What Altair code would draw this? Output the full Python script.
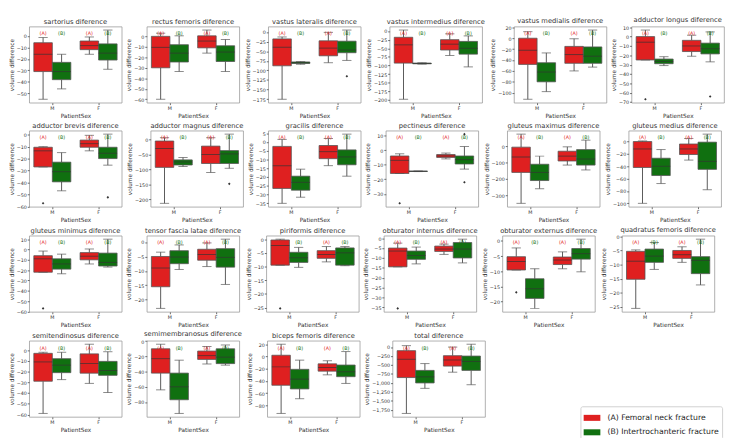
import altair as alt
import pandas as pd
import numpy as np

muscles = ["sartorius", "rectus femoris", "vastus lateralis", "vastus intermedius",
           "vastus medialis", "adductor longus", "adductor brevis", "adductor magnus",
           "gracilis", "pectineus", "gluteus maximus", "gluteus medius",
           "gluteus minimus", "tensor fascia latae", "piriformis", "obturator internus",
           "obturator externus", "quadratus femoris", "semitendinosus", "semimembranosus",
           "biceps femoris", "total"]

tick_step = [10, 10, 25, 25, 20, 10, 10, 50, 5, 10, 100, 20, 10, 5, 5, 5, 5, 5, 10, 20, 20, 250]

# (whisker low, q1, median, q3, whisker high)
M_A = [(-55, -31, -16, -6, -1.5), (-60, -30, -10.5, 0, 3), (-175, -88, -40, -18, -13),
       (-198, -93, -40, -18, 3), (-112, -48, -22, 0, 12), (-25, -25, -6, 0, 7),
       (-27, -27, -13.5, -10.5, -10), (-213, -93, -30, -5, 6), (-35, -26.5, -13.5, -2.5, 1.5),
       (-16, -16, -7, -4, -2.5), (-350, -160, -65, -5, 75), (-100, -42, -12, 0, 1),
       (-22, -22, -9, -6, -1.5), (-23, -15.5, -9, -5, -3.5), (-9.5, -9.5, -2.3, -0.3, 0),
       (-14.5, -14.5, -6.5, -5, -2.5), (-9.6, -9.6, -6.8, -5.2, -2.3), (-25.5, -15.2, -8.8, -5.3, -4.8),
       (-59, -29, -11, -3, -2), (-64, -42, -23, -10, -4), (-93, -47, -17, 2, 20),
       (-1850, -850, -340, -100, 40)]
M_B = [(-46, -38, -31, -23, -16), (-33.5, -24.5, -16, -8, 0.5), (-84, -82, -80, -78, -77),
       (-96, -95, -94, -93, -92), (-98, -80, -62, -45, -27), (-31, -29, -26.5, -24, -21.5),
       (-47, -39.5, -31, -23, -15), (-90, -85, -75, -68, -60), (-31.5, -27.5, -23, -19.5, -15.5),
       (-14.7, -14.6, -14.5, -14.4, -14.3), (-260, -210, -160, -110, -60), (-68, -55, -40, -27, -13),
       (-23.5, -19, -14, -9, -4.5), (-9.5, -7.5, -5.2, -3, -1), (-10.3, -8.5, -6.8, -4.8, -3),
       (-13, -10.7, -8.8, -6.5, -4.5), (-22.3, -19, -15.8, -12.5, -9.2), (-11.7, -9.2, -7, -4.5, -2.2),
       (-27.5, -21, -14, -8, -2), (-95, -77, -60, -42, -25), (-69, -53, -37, -21, -6),
       (-1150, -1000, -830, -650, -460)]
F_A = [(-16, -12, -8.5, -4.5, -1), (-16, -11, -4.5, 0.5, 6), (-80, -62, -42, -23, -1),
       (-71, -55, -38, -25, -8), (-60, -46, -30, -15, -1), (-21, -16, -10, -4, 1.5),
       (-13.5, -10.5, -7.5, -4.5, -0.5), (-110, -80, -50, -22, 6), (-13.5, -9.5, -5.5, -2, 2),
       (-6, -5, -4, -3, -2), (-115, -90, -60, -30, -3), (-30, -21, -12, -4, 5),
       (-14, -10, -6.5, -3, 0.5), (-8.5, -6.3, -4.3, -2.5, -0.3), (-8.3, -7, -5.6, -4.2, -2.7),
       (-8.2, -6.7, -5.5, -4, -3), (-9.2, -7.8, -6.3, -5.3, -3.6), (-9.2, -7.8, -6.5, -5, -3.7),
       (-31, -21.5, -12.5, -3.5, 5.5), (-30, -24, -19, -13, -7), (-30, -24, -18, -12, -7),
       (-700, -530, -360, -240, 0)]
F_B = [(-29, -21, -15, -7, 5), (-33.5, -24, -15, -9, -3), (-74, -54, -47, -24, 5),
       (-104, -67, -50, -30, -14), (-53, -46, -33, -16, 15), (-27, -18.5, -13, -7, 5),
       (-25.5, -20, -15.5, -10.5, 0.5), (-96, -80, -48, -37, 18), (-19.5, -13, -8.5, -4.5, 4.5),
       (-13, -9.5, -6.5, -4, 2.5), (-145, -115, -78, -20, 38), (-78, -45, -32, -1, 12),
       (-17, -16, -12.5, -3.5, 10), (-14.7, -8.7, -5.3, -2.3, 1), (-9.7, -9.5, -5, -3.2, -2.7),
       (-12.5, -10, -5.5, -2.2, -0.5), (-10.2, -6, -4.2, -2.5, 0.6), (-17.2, -13.2, -8.5, -7.2, -1),
       (-39.5, -23.5, -19, -10.5, -1.5), (-31.5, -29.5, -21, -10, -5), (-44, -33, -25, -14, 8),
       (-1050, -650, -400, -250, 80)]

out_muscle = ["vastus lateralis", "adductor longus", "adductor longus", "adductor brevis",
              "adductor brevis", "adductor magnus", "pectineus", "pectineus", "pectineus",
              "gluteus minimus", "piriformis", "obturator internus", "obturator externus"]
out_sex = ["F", "M", "F", "M", "F", "F", "M", "F", "F", "M", "M", "M", "M"]
out_frac = ["B", "A", "B", "A", "B", "B", "A", "B", "B", "A", "A", "A", "A"]
out_value = [-115, -67, -64, -57.5, -52.5, -148, -36.5, 11, -22, -57, -25.3, -35.5, -17]

sexes = ["M", "F"]
fracs = ["A", "B"]
frac_labels = ["(A) Femoral neck fracture", "(B) Intertrochanteric fracture"]
frac_short = ["(A)", "(B)"]
colors = ["#df2020", "#107010"]

rows = []
for groups, sex, frac in [(M_A, "M", "A"), (M_B, "M", "B"), (F_A, "F", "A"), (F_B, "F", "B")]:
    for m, st in zip(muscles, groups):
        fi = fracs.index(frac)
        rows.append(dict(muscle=m, sex=sex, frac=frac, flabel=frac_labels[fi], short=frac_short[fi],
                         lo=st[0], q1=st[1], med=st[2], q3=st[3], hi=st[4]))
box_df = pd.DataFrame(rows)
out_df = pd.DataFrame(dict(muscle=out_muscle, sex=out_sex, frac=out_frac, value=out_value))

W, H = 96, 79
FONT = "DejaVu Sans"
BOXW = 0.2 * W
GRAY = "#555555"

panels = []
for i, m in enumerate(muscles):
    bd = box_df[box_df.muscle == m]
    od = out_df[out_df.muscle == m]
    lo = min(bd.lo.min(), od.value.min() if len(od) else np.inf)
    hi = max(bd.hi.max(), od.value.max() if len(od) else -np.inf)
    pad = 0.05 * (hi - lo)
    dlo, dhi = lo - pad, hi + pad
    step = tick_step[i]
    ticks = [float(v) for v in np.arange(np.ceil(dlo / step) * step, dhi + 1e-9, step)]
    yscale = alt.Scale(domain=[dlo, dhi], nice=False, zero=False)
    yaxis = alt.Axis(values=ticks, title="volume difference")
    xenc = alt.X("sex:N", scale=alt.Scale(domain=sexes, paddingInner=0.2, paddingOuter=0.1),
                 axis=alt.Axis(title="PatientSex", labelAngle=0))
    xoff = alt.XOffset("frac:N", scale=alt.Scale(domain=fracs, paddingInner=0, paddingOuter=0))

    def Y(f):
        return alt.Y(f + ":Q", scale=yscale, axis=yaxis)

    base = alt.Chart(bd)
    wl = base.mark_rule(color=GRAY, strokeWidth=1).encode(x=xenc, xOffset=xoff, y=Y("lo"), y2="q1:Q")
    wh = base.mark_rule(color=GRAY, strokeWidth=1).encode(x=xenc, xOffset=xoff, y=Y("q3"), y2="hi:Q")
    box = base.mark_bar(stroke=GRAY, strokeWidth=0.8).encode(
        x=xenc, xOffset=xoff, y=Y("q1"), y2="q3:Q",
        color=alt.Color("flabel:N", scale=alt.Scale(domain=frac_labels, range=colors),
                        legend=alt.Legend(title=None, orient="none", legendX=572, legendY=394,
                                          symbolType="M-1,-0.36L1,-0.36L1,0.36L-1,0.36Z",
                                          symbolSize=300, symbolStrokeWidth=0,
                                          labelFont=FONT, labelFontSize=8, labelColor="#222",
                                          strokeColor="#d0d0d0", cornerRadius=2, padding=3,
                                          fillColor="white", rowPadding=2, labelOffset=7)))
    capl = base.mark_tick(color=GRAY, size=BOXW / 2, thickness=1).encode(x=xenc, xOffset=xoff, y=Y("lo"))
    caph = base.mark_tick(color=GRAY, size=BOXW / 2, thickness=1).encode(x=xenc, xOffset=xoff, y=Y("hi"))
    medt = base.mark_tick(color="#333333", size=BOXW, thickness=1).encode(x=xenc, xOffset=xoff, y=Y("med"))
    ta = alt.Chart(bd[bd.frac == "A"]).mark_text(fontSize=5, font=FONT, color=colors[0]).encode(
        x=xenc, xOffset=xoff, y=alt.value(H * 0.09), text="short:N")
    tb = alt.Chart(bd[bd.frac == "B"]).mark_text(fontSize=5, font=FONT, color=colors[1]).encode(
        x=xenc, xOffset=xoff, y=alt.value(H * 0.09), text="short:N")
    layers = [wl, wh, box, capl, caph, medt, ta, tb]
    if len(od):
        pts = alt.Chart(od).mark_point(shape="diamond", filled=True, size=7, color="#333333", opacity=1).encode(
            x=xenc, xOffset=xoff, y=Y("value"))
        layers.append(pts)
    p = alt.layer(*layers).properties(
        width=W, height=H,
        title=alt.TitleParams(text=m + " diference", fontSize=7, font=FONT, fontWeight="normal",
                              color="#333333", anchor="middle", offset=2))
    panels.append(p)

rowcharts = [alt.hconcat(*panels[k:k + 6], spacing=3) for k in range(0, len(panels), 6)]
chart = alt.vconcat(*rowcharts, spacing=2).properties(padding=0).configure_view(
    stroke="#999999", strokeWidth=0.8
).configure_axis(
    labelFont=FONT, titleFont=FONT, labelFontSize=5, titleFontSize=6, labelColor="#333333",
    titleColor="#333333", titleFontWeight="normal", tickColor="#666666", tickSize=2,
    domain=False, grid=False, labelPadding=1, titlePadding=2
)

chart.save("out.html", embed_options={"renderer": "svg", "actions": False})
